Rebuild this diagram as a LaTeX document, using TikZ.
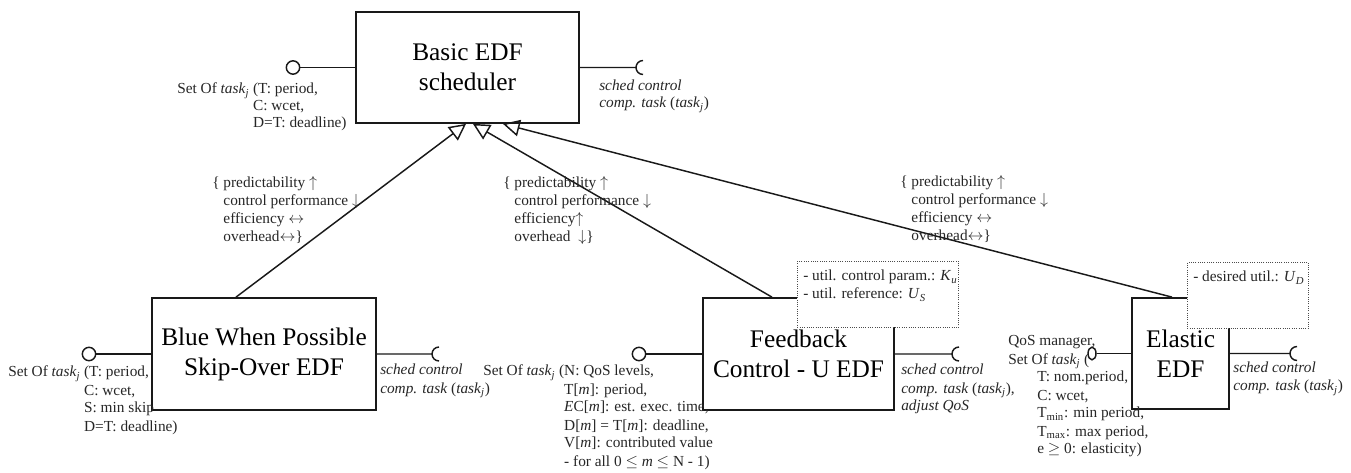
\documentclass[tikz,border=0pt]{standalone}
\usepackage{fontspec}
\setmainfont{Liberation Serif}
\usetikzlibrary{arrows.meta,shapes.geometric}

\colorlet{box edge}{black!90}
\colorlet{note text}{black!85}
\tikzset{
  comp/.style={draw=box edge, line width=1.3pt, align=center, inner sep=0pt,
    font=\fontsize{19}{22.5}\selectfont},
  wire/.style={draw=box edge, line width=1.1pt},
  lolli/.style={circle, draw=box edge, line width=1.1pt, fill=white, minimum size=10pt, inner sep=0pt},
  inherit/.style={wire, -{Triangle[open, length=12.5pt, width=12.5pt, line width=1.1pt]}},
  param/.style={draw=black!70, densely dotted, fill=white, line width=0.7pt, anchor=north west, inner sep=0pt},
  note/.style={anchor=base west, inner sep=0pt, text=note text, font=\fontsize{11.5}{13.5}\selectfont}
  }
\newcommand{\tj}{\textit{task}\textsubscript{\textit{j}}}
\newcommand{\isub}[2]{\textit{#1}\textsubscript{\textit{#2}}}

\begin{document}
\begin{tikzpicture}[x=0.75pt, y=-0.75pt]
\useasboundingbox (0,0) rectangle (1351,473);

% components
\node[comp, minimum width=167.25pt, minimum height=83.25pt] (basic) at (467.5,67.5) {Basic EDF\\scheduler};
\node[comp, minimum width=168pt, minimum height=84pt] (blue) at (264,354) {Blue When Possible\\Skip-Over EDF};
\node[comp, minimum width=143.25pt, minimum height=84pt] (feedback) at (798.5,354) {Feedback\\Control - U EDF};
\node[comp, minimum width=72.75pt, minimum height=83.25pt] (elastic) at (1180.5,353.5) {Elastic\\EDF};

% provided interfaces
\node[lolli] (basic-in) at (293,67.5) {};
\node[lolli] (blue-in) at (89,354) {};
\node[lolli] (feedback-in) at (639,354) {};
\node[lolli, ellipse, minimum width=6pt, minimum height=9.5pt] (elastic-in) at (1092,353.5) {};
\foreach \n in {basic, blue, feedback, elastic}
  \draw[wire] (\n-in) -- (\n-in -| \n.west);

% required interfaces
\coordinate (basic-out) at (636,67.5);
\coordinate (blue-out) at (432,354);
\coordinate (feedback-out) at (952,354);
\coordinate (elastic-out) at (1290,353.5);
\foreach \n in {basic, blue, feedback, elastic}
  \draw[wire] (\n-out -| \n.east) -- (\n-out) ++(5.25pt,5.25pt) arc[start angle=90, end angle=270, radius=5.25pt];

% specialisations
\draw[inherit] ([xshift=-21pt]blue.north) -- ([xshift=-1.1pt]basic.south);
\draw[inherit] ([xshift=-19.9pt]feedback.north) -- ([xshift=4.1pt]basic.south);
\draw[inherit] ([xshift=-6.4pt]elastic.north) -- ([xshift=26.6pt]basic.south);

% parameter boxes
\node[param, minimum width=120.75pt, minimum height=49.5pt] (feedback-param) at (797,261) {};
\node[param, minimum width=90.75pt, minimum height=49.5pt] (elastic-param) at (1187,262) {};
\node[note] (feedback-param-text) at (803,281) {\begin{tabular}[t]{@{}l@{}}
  - util. control param.: \isub{K}{u}\\ - util. reference: \isub{U}{S}\end{tabular}};
\node[note] (elastic-param-text) at (1193,282) {- desired util.: \isub{U}{D}};

% task sets
\node[note, font=\fontsize{11.5}{12.5}\selectfont] (basic-tasks) at (177,94) {\begin{tabular}[t]{@{}l@{ }l@{}}
  Set Of \tj & (T: period,\\ & C: wcet,\\ & D=T: deadline)\end{tabular}};
\node[note] (blue-tasks) at (8,377) {\begin{tabular}[t]{@{}l@{ }l@{}}
  Set Of \tj & (T: period,\\ & C: wcet,\\ & S: min skip\\ & D=T: deadline)\end{tabular}};
\node[note] (feedback-tasks) at (483,376) {\begin{tabular}[t]{@{}l@{}l@{}}
  Set Of \tj\ ( & N: QoS levels,\\
  & T[\textit{m}]: period,\\
  & \textit{E}C[\textit{m}]: est. exec. time,\\
  & D[\textit{m}] = T[\textit{m}]: deadline,\\
  & V[\textit{m}]: contributed value\\
  & - for all 0 $\leq$ \textit{m} $\leq$ N - 1)\end{tabular}};
\node[note] (elastic-tasks) at (1008,346) {\begin{tabular}[t]{@{}l@{}}
  QoS manager,\\ Set Of \tj\ (\\
  \hspace*{21.75pt}T: nom.period,\\
  \hspace*{21.75pt}C: wcet,\\
  \hspace*{21.75pt}T\textsubscript{min}: min period,\\
  \hspace*{21.75pt}T\textsubscript{max}: max period,\\
  \hspace*{21.75pt}e $\geq$ 0: elasticity)\end{tabular}};

% control tasks
\node[note, font=\fontsize{11.5}{12.75}\selectfont] (basic-ctrl) at (599,91) {\begin{tabular}[t]{@{}l@{}}
  \textit{sched control}\\ \textit{comp. task} (\tj)\end{tabular}};
\node[note] (blue-ctrl) at (380,375) {\begin{tabular}[t]{@{}l@{}}
  \textit{sched control}\\ \textit{comp. task} (\tj)\end{tabular}};
\node[note] (feedback-ctrl) at (901,375) {\begin{tabular}[t]{@{}l@{}}
  \textit{sched control}\\ \textit{comp. task} (\tj),\\ \textit{adjust QoS}\end{tabular}};
\node[note] (elastic-ctrl) at (1233,373) {\begin{tabular}[t]{@{}l@{}}
  \textit{sched control}\\ \textit{comp. task} (\tj)\end{tabular}};

% trade-offs
\node[note] (blue-trade) at (212,188) {\begin{tabular}[t]{@{}l@{ }l@{}}
  \{ & predictability $\uparrow$\\ & control performance $\downarrow$\\
  & efficiency $\leftrightarrow$\\ & overhead$\leftrightarrow$\}\end{tabular}};
\node[note] (feedback-trade) at (503,188) {\begin{tabular}[t]{@{}l@{ }l@{}}
  \{ & predictability $\uparrow$\\ & control performance $\downarrow$\\
  & efficiency$\uparrow$\\ & overhead\ \ $\downarrow$\}\end{tabular}};
\node[note] (elastic-trade) at (900,187) {\begin{tabular}[t]{@{}l@{ }l@{}}
  \{ & predictability $\uparrow$\\ & control performance $\downarrow$\\
  & efficiency $\leftrightarrow$\\ & overhead$\leftrightarrow$\}\end{tabular}};
\end{tikzpicture}
\end{document}
